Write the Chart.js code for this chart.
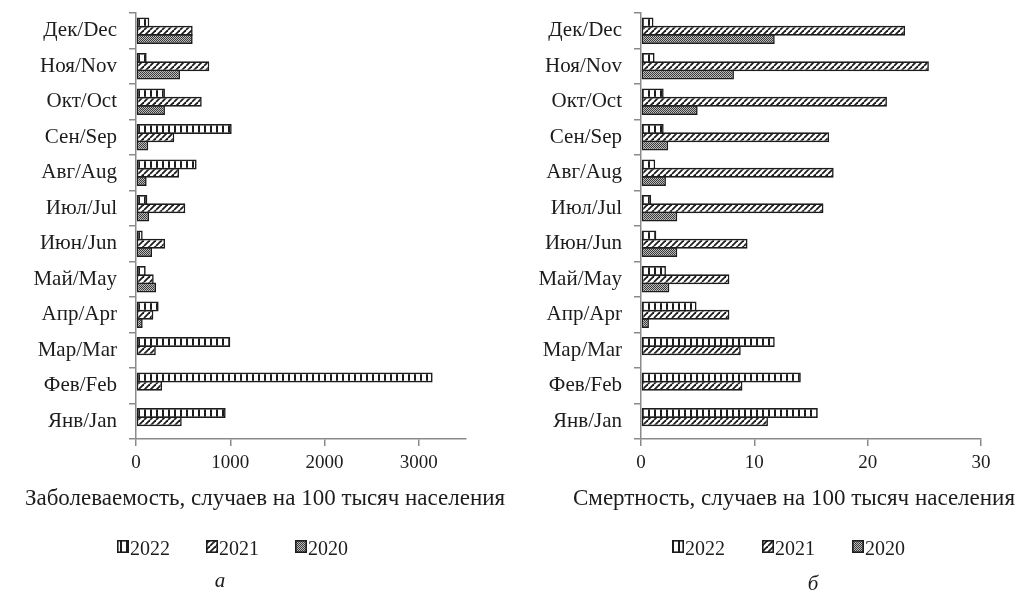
<!DOCTYPE html>
<html>
<head>
<meta charset="utf-8">
<script src="https://cdn.jsdelivr.net/npm/chart.js@4.4.1/dist/chart.umd.min.js"></script>
<style>
  html, body { margin: 0; padding: 0; background: #fff; }
  #wrap { position: relative; width: 1021px; height: 600px; overflow: hidden; background: #fff; }
  #wrap canvas { position: absolute; top: 0; }
</style>
</head>
<body>
<div id="wrap">
  <canvas id="incidence" width="510" height="600" style="left:0"></canvas>
  <canvas id="mortality" width="511" height="600" style="left:510px"></canvas>
</div>
<script>
// Months (bottom to top on the chart), series labels and axis ticks
const months = ['Янв/Jan', 'Фев/Feb', 'Мар/Mar', 'Апр/Apr', 'Май/May', 'Июн/Jun',
                'Июл/Jul', 'Авг/Aug', 'Сен/Sep', 'Окт/Oct', 'Ноя/Nov', 'Дек/Dec'];
const yearLabels = ['2022', '2021', '2020'];

// Incidence, cases per 100 thousand population
const incidence2022 = [951, 3146, 1000, 240, 103, 71, 120, 643, 1015, 307, 113, 141];
const incidence2021 = [485, 276, 210, 184, 188, 308, 523, 456, 406, 697, 777, 601];
const incidence2020 = [null, null, null, 71, 212, 170, 138, 113, 130, 307, 467, 601];

// Mortality, deaths per 100 thousand population
const mortality2022 = [15.6, 14.1, 11.8, 4.9, 2.2, 1.35, 0.9, 1.25, 2.0, 2.0, 1.2, 1.1];
const mortality2021 = [11.2, 8.95, 8.8, 7.8, 7.8, 9.4, 16.1, 17.0, 16.6, 21.7, 25.4, 23.3];
const mortality2020 = [null, null, null, 0.7, 2.5, 3.2, 3.2, 2.2, 2.4, 5.0, 8.2, 11.8];

const incidenceTicks = [0, 1000, 2000, 3000];
const mortalityTicks = [0, 10, 20, 30];

const SERIF = '"Liberation Serif", "Times New Roman", serif';
const AXIS_GREY = '#8a8a8a';
const INK = '#1c1c1c';

// Monochrome fill patterns for the three years
function makePattern(size, paint) {
  const c = document.createElement('canvas');
  c.width = size; c.height = size;
  const g = c.getContext('2d');
  paint(g, size);
  return g.createPattern(c, 'repeat');
}
const squaresFill = makePattern(6, (g, s) => {
  g.fillStyle = '#fff'; g.fillRect(0, 0, s, s);
  g.fillStyle = INK; g.fillRect(0, 0, 2, s);
});
const diagonalFill = makePattern(6, (g, s) => {
  g.fillStyle = '#fff'; g.fillRect(0, 0, s, s);
  g.strokeStyle = INK; g.lineWidth = 1.8;
  for (const o of [-s, 0, s]) {
    g.beginPath(); g.moveTo(o, s); g.lineTo(o + s, 0); g.stroke();
  }
});
const checkerFill = makePattern(2, (g, s) => {
  g.fillStyle = '#bdbdbd'; g.fillRect(0, 0, s, s);
  g.fillStyle = '#3a3a3a'; g.fillRect(0, 0, 1, 1); g.fillRect(1, 1, 1, 1);
});
const fills = [squaresFill, diagonalFill, checkerFill];

// Axis title, legend and panel letter under each chart
const panelText = {
  id: 'panelText',
  afterDraw(chart, args, o) {
    const ctx = chart.ctx;
    ctx.save();
    ctx.fillStyle = INK;
    ctx.textBaseline = 'alphabetic';
    ctx.font = '23px ' + SERIF;
    ctx.textAlign = 'center';
    ctx.fillText(o.title, o.titleX, o.titleY);

    ctx.textAlign = 'left';
    ctx.font = '20px ' + SERIF;
    let x = o.legendX;
    chart.data.datasets.forEach(ds => {
      ctx.fillStyle = ds.backgroundColor;
      ctx.fillRect(x, o.legendY - 15, 12, 13);
      ctx.strokeStyle = INK; ctx.lineWidth = 1.6;
      ctx.strokeRect(x + 0.8, o.legendY - 14.2, 10.4, 11.4);
      ctx.fillStyle = INK;
      ctx.fillText(ds.label, x + 13, o.legendY);
      x += o.legendStep;
    });

    ctx.font = 'italic 21px ' + SERIF;
    ctx.textAlign = 'center';
    ctx.fillText(o.letter, o.letterX, o.letterY);
    ctx.restore();
  }
};

function buildChart(id, series, ticks, maxValue, plotLeft, padRight, text) {
  return new Chart(document.getElementById(id), {
    type: 'bar',
    data: {
      labels: months,
      datasets: series.map((values, i) => ({
        label: yearLabels[i],
        data: values,
        backgroundColor: fills[i],
        borderColor: INK,
        borderWidth: 1.6,
        borderSkipped: false,
        categoryPercentage: 0.70,
        barPercentage: 1.19
      }))
    },
    options: {
      indexAxis: 'y',
      responsive: false,
      animation: false,
      events: [],
      layout: { padding: { left: 0, right: padRight, top: 13, bottom: 0 } },
      scales: {
        x: {
          min: 0,
          max: maxValue,
          afterBuildTicks: s => { s.ticks = ticks.map(v => ({ value: v })); },
          afterFit: s => { s.height = 161; },
          border: { display: true, color: AXIS_GREY, width: 1.5 },
          grid: { drawOnChartArea: false, drawTicks: true, tickLength: 7, color: AXIS_GREY, lineWidth: 1.5 },
          ticks: { padding: 6, color: INK, font: { family: SERIF, size: 19 }, maxRotation: 0,
                   callback: v => String(v) }
        },
        y: {
          reverse: true,
          afterFit: s => { s.width = plotLeft; s.paddingTop = 0; s.paddingBottom = 0; },
          border: { display: true, color: AXIS_GREY, width: 1.5 },
          grid: { drawOnChartArea: false, drawTicks: true, tickLength: 7, color: AXIS_GREY, lineWidth: 1.5 },
          ticks: { padding: 12, color: INK, font: { family: SERIF, size: 21 }, autoSkip: false }
        }
      },
      plugins: {
        legend: { display: false },
        tooltip: { enabled: false },
        panelText: text
      }
    },
    plugins: [panelText]
  });
}

buildChart('incidence', [incidence2022, incidence2021, incidence2020], incidenceTicks, 3500, 136, 44, {
  title: 'Заболеваемость, случаев на 100 тысяч населения', titleX: 265, titleY: 505,
  legendX: 117, legendY: 555, legendStep: 89,
  letter: 'а', letterX: 220, letterY: 587
});
buildChart('mortality', [mortality2022, mortality2021, mortality2020], mortalityTicks, 30, 131, 40, {
  title: 'Смертность, случаев на 100 тысяч населения', titleX: 284, titleY: 505,
  legendX: 162, legendY: 555, legendStep: 90,
  letter: 'б', letterX: 303, letterY: 590
});
</script>
</body>
</html>
